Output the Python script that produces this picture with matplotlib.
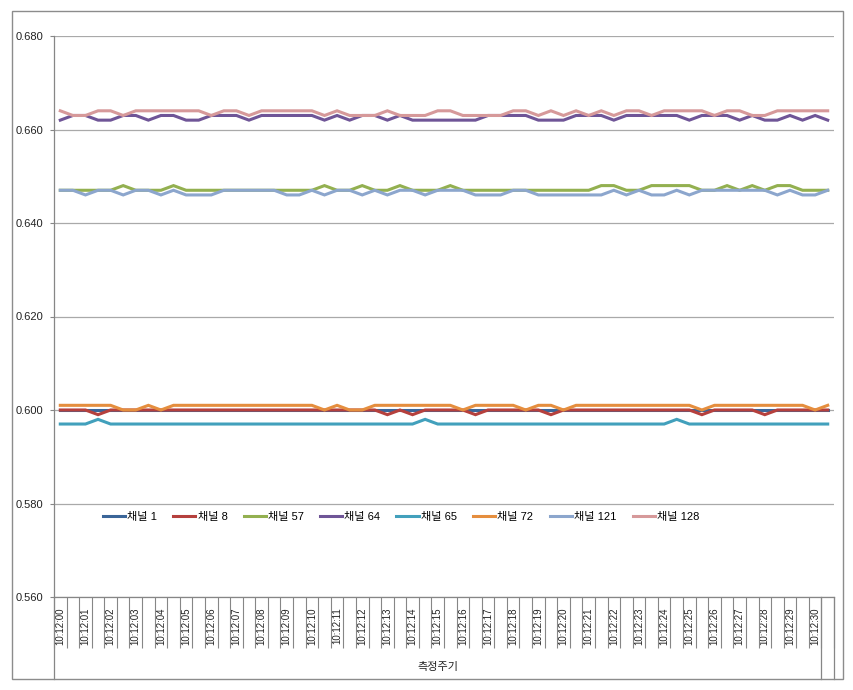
import numpy as np
import matplotlib
matplotlib.use("Agg")
import matplotlib.pyplot as plt
from matplotlib.patches import Rectangle

plt.rcParams['font.family'] = ['Liberation Sans', 'Noto Sans CJK KR']

# time labels (one label every second category)
time_labels = ['10:12:%02d' % s for s in range(31)]
n_points = 62

ch1 = [0.600, 0.600, 0.600, 0.600, 0.600, 0.600, 0.600, 0.600, 0.600, 0.600,
       0.600, 0.600, 0.600, 0.600, 0.600, 0.600, 0.600, 0.600, 0.600, 0.600,
       0.600, 0.600, 0.600, 0.600, 0.600, 0.600, 0.600, 0.600, 0.600, 0.600,
       0.600, 0.600, 0.600, 0.600, 0.600, 0.600, 0.600, 0.600, 0.600, 0.600,
       0.600, 0.600, 0.600, 0.600, 0.600, 0.600, 0.600, 0.600, 0.600, 0.600,
       0.600, 0.600, 0.600, 0.600, 0.600, 0.600, 0.600, 0.600, 0.600, 0.600,
       0.600, 0.600]
ch8 = [0.600, 0.600, 0.600, 0.599, 0.600, 0.600, 0.600, 0.600, 0.600, 0.600,
       0.600, 0.600, 0.600, 0.600, 0.600, 0.600, 0.600, 0.600, 0.600, 0.600,
       0.600, 0.600, 0.600, 0.600, 0.600, 0.600, 0.599, 0.600, 0.599, 0.600,
       0.600, 0.600, 0.600, 0.599, 0.600, 0.600, 0.600, 0.600, 0.600, 0.599,
       0.600, 0.600, 0.600, 0.600, 0.600, 0.600, 0.600, 0.600, 0.600, 0.600,
       0.600, 0.599, 0.600, 0.600, 0.600, 0.600, 0.599, 0.600, 0.600, 0.600,
       0.600, 0.600]
ch57 = [0.647, 0.647, 0.647, 0.647, 0.647, 0.648, 0.647, 0.647, 0.647, 0.648,
        0.647, 0.647, 0.647, 0.647, 0.647, 0.647, 0.647, 0.647, 0.647, 0.647,
        0.647, 0.648, 0.647, 0.647, 0.648, 0.647, 0.647, 0.648, 0.647, 0.647,
        0.647, 0.648, 0.647, 0.647, 0.647, 0.647, 0.647, 0.647, 0.647, 0.647,
        0.647, 0.647, 0.647, 0.648, 0.648, 0.647, 0.647, 0.648, 0.648, 0.648,
        0.648, 0.647, 0.647, 0.648, 0.647, 0.648, 0.647, 0.648, 0.648, 0.647,
        0.647, 0.647]
ch64 = [0.662, 0.663, 0.663, 0.662, 0.662, 0.663, 0.663, 0.662, 0.663, 0.663,
        0.662, 0.662, 0.663, 0.663, 0.663, 0.662, 0.663, 0.663, 0.663, 0.663,
        0.663, 0.662, 0.663, 0.662, 0.663, 0.663, 0.662, 0.663, 0.662, 0.662,
        0.662, 0.662, 0.662, 0.662, 0.663, 0.663, 0.663, 0.663, 0.662, 0.662,
        0.662, 0.663, 0.663, 0.663, 0.662, 0.663, 0.663, 0.663, 0.663, 0.663,
        0.662, 0.663, 0.663, 0.663, 0.662, 0.663, 0.662, 0.662, 0.663, 0.662,
        0.663, 0.662]
ch65 = [0.597, 0.597, 0.597, 0.598, 0.597, 0.597, 0.597, 0.597, 0.597, 0.597,
        0.597, 0.597, 0.597, 0.597, 0.597, 0.597, 0.597, 0.597, 0.597, 0.597,
        0.597, 0.597, 0.597, 0.597, 0.597, 0.597, 0.597, 0.597, 0.597, 0.598,
        0.597, 0.597, 0.597, 0.597, 0.597, 0.597, 0.597, 0.597, 0.597, 0.597,
        0.597, 0.597, 0.597, 0.597, 0.597, 0.597, 0.597, 0.597, 0.597, 0.598,
        0.597, 0.597, 0.597, 0.597, 0.597, 0.597, 0.597, 0.597, 0.597, 0.597,
        0.597, 0.597]
ch72 = [0.601, 0.601, 0.601, 0.601, 0.601, 0.600, 0.600, 0.601, 0.600, 0.601,
        0.601, 0.601, 0.601, 0.601, 0.601, 0.601, 0.601, 0.601, 0.601, 0.601,
        0.601, 0.600, 0.601, 0.600, 0.600, 0.601, 0.601, 0.601, 0.601, 0.601,
        0.601, 0.601, 0.600, 0.601, 0.601, 0.601, 0.601, 0.600, 0.601, 0.601,
        0.600, 0.601, 0.601, 0.601, 0.601, 0.601, 0.601, 0.601, 0.601, 0.601,
        0.601, 0.600, 0.601, 0.601, 0.601, 0.601, 0.601, 0.601, 0.601, 0.601,
        0.600, 0.601]
ch121 = [0.647, 0.647, 0.646, 0.647, 0.647, 0.646, 0.647, 0.647, 0.646, 0.647,
         0.646, 0.646, 0.646, 0.647, 0.647, 0.647, 0.647, 0.647, 0.646, 0.646,
         0.647, 0.646, 0.647, 0.647, 0.646, 0.647, 0.646, 0.647, 0.647, 0.646,
         0.647, 0.647, 0.647, 0.646, 0.646, 0.646, 0.647, 0.647, 0.646, 0.646,
         0.646, 0.646, 0.646, 0.646, 0.647, 0.646, 0.647, 0.646, 0.646, 0.647,
         0.646, 0.647, 0.647, 0.647, 0.647, 0.647, 0.647, 0.646, 0.647, 0.646,
         0.646, 0.647]
ch128 = [0.664, 0.663, 0.663, 0.664, 0.664, 0.663, 0.664, 0.664, 0.664, 0.664,
         0.664, 0.664, 0.663, 0.664, 0.664, 0.663, 0.664, 0.664, 0.664, 0.664,
         0.664, 0.663, 0.664, 0.663, 0.663, 0.663, 0.664, 0.663, 0.663, 0.663,
         0.664, 0.664, 0.663, 0.663, 0.663, 0.663, 0.664, 0.664, 0.663, 0.664,
         0.663, 0.664, 0.663, 0.664, 0.663, 0.664, 0.664, 0.663, 0.664, 0.664,
         0.664, 0.664, 0.663, 0.664, 0.664, 0.663, 0.663, 0.664, 0.664, 0.664,
         0.664, 0.664]

series_names = ['채널 1', '채널 8', '채널 57', '채널 64',
                '채널 65', '채널 72', '채널 121', '채널 128']
series_values = [ch1, ch8, ch57, ch64, ch65, ch72, ch121, ch128]
series_colors = ['#3A6598', '#B5403D', '#93B050', '#6F5597',
                 '#42A0BC', '#E58E3E', '#8CA6CD', '#D6999A']

W, H = 854, 690
fig = plt.figure(figsize=(W / 100, H / 100), dpi=100)

# chart border
fig.patches.append(Rectangle((12 / W, 1 - 679 / H), 831 / W, 668 / H,
                             transform=fig.transFigure, fill=False,
                             edgecolor='#8C8C8C', linewidth=1.0))

ax = fig.add_axes([54 / W, 1 - 597 / H, 780 / W, 561 / H])
x = np.arange(n_points)
for name, vals, col in zip(series_names, series_values, series_colors):
    ax.plot(x, vals, color=col, linewidth=2.2, label=name,
            solid_joinstyle='miter')

ax.set_xlim(-0.5, n_points - 0.5)
ax.set_ylim(0.56, 0.68)
ax.set_yticks(np.arange(0.56, 0.6801, 0.02))
ax.set_yticklabels(['%.3f' % v for v in np.arange(0.56, 0.6801, 0.02)])
ax.grid(axis='y', color='#A9A9A9', linewidth=0.9)
ax.set_axisbelow(True)

for s in ['top', 'right']:
    ax.spines[s].set_visible(False)
for s in ['left', 'bottom']:
    ax.spines[s].set_color('#868686')
    ax.spines[s].set_linewidth(0.9)

ax.tick_params(axis='y', length=3, width=0.8, color='#868686', pad=5,
               labelsize=8, labelcolor='#222222')

# category axis: labels every second category, cell lines between categories
ax.set_xticks(np.arange(0, len(time_labels) * 2, 2))
ax.set_xticklabels(time_labels, rotation=90, fontsize=7, color='#222222')
ax.set_xticks(np.arange(-0.5, n_points, 1), minor=True)
ax.tick_params(axis='x', which='major', length=0, pad=7.5)
ax.tick_params(axis='x', which='minor', length=36.7, width=0.8,
               color='#868686', direction='out')

# outer category level
tr = ax.get_xaxis_transform()
for xb in [-0.5, len(time_labels) * 2 - 1.5, n_points - 0.5]:
    ax.plot([xb, xb], [0, -0.146], transform=tr, clip_on=False,
            color='#868686', linewidth=0.9)
ax.text((len(time_labels) * 2 - 2) / 2, -0.1248, '측정주기', transform=tr,
        ha='center', va='center', fontsize=8, color='#222222')

ax.legend(loc='center', bbox_to_anchor=(401 / W, 1 - 517 / H),
          bbox_transform=fig.transFigure, ncol=8, frameon=False, fontsize=8,
          handlelength=2.0, handletextpad=0.2, columnspacing=1.45)

fig.savefig('out.png', dpi=100)
